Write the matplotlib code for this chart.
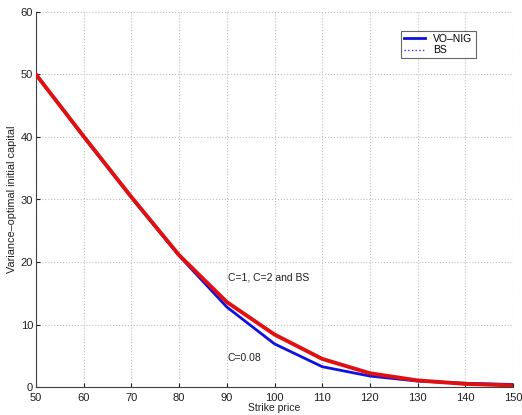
import matplotlib
matplotlib.use("Agg")
import matplotlib.pyplot as plt

strike = [50, 60, 70, 80, 90, 100, 110, 120, 130, 140, 150]
vo_nig_c008 = [50.0, 40.0, 30.3, 21.0, 12.8, 6.9, 3.25, 1.75, 0.95, 0.6, 0.4]
c1_c2_bs = [50.0, 40.1, 30.4, 21.1, 13.6, 8.4, 4.5, 2.2, 1.05, 0.5, 0.25]

plt.rcParams['font.family'] = ['Liberation Sans', 'DejaVu Sans']
fig = plt.figure(figsize=(5.22, 4.15), dpi=100)
ax = fig.add_axes([36/522, 1-387/415, (513-36)/522, (387-12)/415])

ax.plot(strike, c1_c2_bs, color='#3030ff', lw=1.0, ls=':', label='BS', zorder=2)
ax.plot(strike, vo_nig_c008, color='#1010e0', lw=2.0, label='VO-NIG', zorder=3)
ax.plot(strike, c1_c2_bs, color='#e01010', lw=2.8, zorder=4)

ax.set_xlim(50, 150)
ax.set_ylim(0, 60)
ax.set_xticks(range(50, 151, 10))
ax.set_yticks(range(0, 61, 10))
ax.grid(True, ls=':', color='#c0c0c0', lw=0.8)
for s in ['top', 'right']:
    ax.spines[s].set_visible(False)
for s in ['left', 'bottom']:
    ax.spines[s].set_color('#404040')
    ax.spines[s].set_linewidth(0.8)
ax.tick_params(direction='in', length=3, labelsize=8, colors='#202020')
ax.tick_params(axis='x', pad=4)
ax.tick_params(axis='y', pad=2)
ax.set_xlabel('Strike price', fontsize=7.5, labelpad=0, color='#202020')
ax.set_ylabel('Variance\u2013optimal initial capital', fontsize=7.8, labelpad=3, color='#202020')

ax.text(90.2, 17.5, 'C=1, C=2 and BS', fontsize=7.5, va='center', ha='left', color='#202020')
ax.text(90.2, 4.6, 'C=0.08', fontsize=7.5, va='center', ha='left', color='#202020')

h, l = ax.get_legend_handles_labels()
leg = ax.legend([h[1], h[0]], ['VO\u2013NIG', 'BS'], loc='upper left',
                bbox_to_anchor=((401-36)/477, (387-31)/375), fontsize=7.5,
                frameon=True, fancybox=False, edgecolor='#404040', borderaxespad=0,
                handlelength=2.0, borderpad=0.3, labelspacing=0.1, handletextpad=0.8)
leg.get_frame().set_linewidth(0.8)

fig.savefig('out.png', dpi=100)
